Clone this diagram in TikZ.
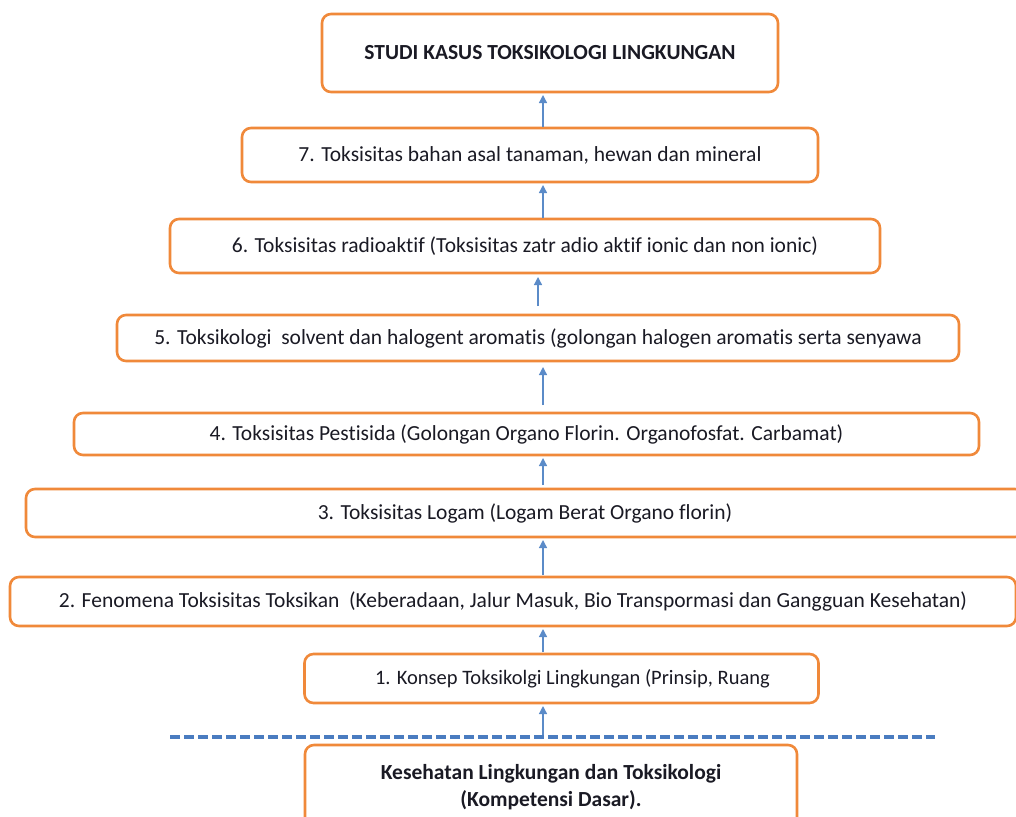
\documentclass[tikz,border=0pt]{standalone}
\usepackage{fontspec}
\setmainfont{Carlito}[Ligatures={NoCommon}]
\usetikzlibrary{arrows.meta}
\definecolor{boxorange}{HTML}{F0893A}
\definecolor{arrblue}{HTML}{5B8BC8}
\definecolor{dashblue}{HTML}{4A7CC0}
\definecolor{txt}{HTML}{1A1A24}
\begin{document}
\begin{tikzpicture}[x=1pt,y=-1pt,
  box/.style={draw=boxorange,line width=2.6pt,rounded corners=9pt,fill=white,
    inner sep=0pt,outer sep=0pt,text=txt,align=center,
    font=\fontsize{21.5}{27}\selectfont},
  arr/.style={draw=arrblue,line width=1.3pt,-{Triangle[width=8pt,length=8pt]},
    shorten <=2pt,shorten >=3pt},
  dashln/.style={draw=dashblue,line width=3.5pt,dash pattern=on 10pt off 4pt}]
\clip (0,0) rectangle (1016,816);
\useasboundingbox (0,0) rectangle (1016,816);
\coordinate (ax) at (543,0);
\coordinate (ax5) at (538,0);
\node[box,minimum width=456pt,minimum height=78pt] (top) at (550,53)
  {\bfseries STUDI KASUS TOKSIKOLOGI LINGKUNGAN};
\node[box,minimum width=576pt,minimum height=54pt] (b7) at (530,155)
  {7. Toksisitas bahan asal tanaman, hewan dan mineral};
\node[box,minimum width=710pt,minimum height=54pt] (b6) at (525,246)
  {6. Toksisitas radioaktif (Toksisitas zatr adio aktif ionic dan non ionic)};
\node[box,minimum width=842pt,minimum height=46pt] (b5) at (538,338)
  {5. Toksikologi\ \ solvent dan halogent aromatis (golongan halogen aromatis serta senyawa};
\node[box,minimum width=905pt,minimum height=42pt] (b4) at (526.5,434)
  {4. Toksisitas Pestisida (Golongan Organo Florin. Organofosfat. Carbamat)};
\node[box,minimum width=998pt,minimum height=48pt] (b3) at (525,513)
  {3. Toksisitas Logam (Logam Berat Organo florin)};
\node[box,minimum width=1006pt,minimum height=49pt] (b2) at (513,601.5)
  {2. Fenomena Toksisitas Toksikan\ \ (Keberadaan, Jalur Masuk, Bio Transpormasi dan Gangguan Kesehatan)};
\node[box,minimum width=514pt,minimum height=49pt,font=\fontsize{20.5}{25}\selectfont] (b1) at (561.5,678.5)
  {\hspace*{22pt}1. Konsep Toksikolgi Lingkungan (Prinsip, Ruang};
\node[box,minimum width=492pt,minimum height=85pt] (bot) at (551,787.5)
  {\bfseries Kesehatan Lingkungan dan Toksikologi\\\bfseries (Kompetensi Dasar).};
\coordinate (dl) at (170,737);
\coordinate (dr) at (935,737);
\draw[dashln] (dl) -- (dr);
\draw[arr] (dl -| ax) -- (b1.south -| ax);
\draw[arr] (b1.north -| ax) -- (b2.south -| ax);
\draw[arr] (b2.north -| ax) -- (b3.south -| ax);
\draw[arr,shorten <=4pt] (b3.north -| ax) -- (b4.south -| ax);
\draw[arr,shorten <=8pt,shorten >=6pt] (b4.north -| ax) -- (b5.south -| ax);
\draw[arr,shorten <=9pt,shorten >=4pt] (b5.north -| ax5) -- (b6.south -| ax5);
\draw[arr,shorten <=1pt] (b6.north -| ax) -- (b7.south -| ax);
\draw[arr,shorten <=1pt] (b7.north -| ax) -- (top.south -| ax);
\end{tikzpicture}
\end{document}
